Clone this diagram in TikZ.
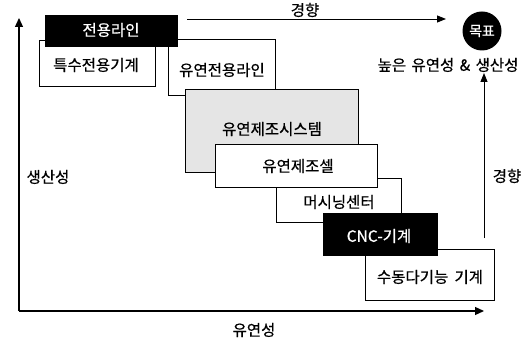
\documentclass[tikz,border=0pt]{standalone}
\usepackage{fontspec}
\setmainfont{Noto Sans CJK KR}[FakeBold=0.6]
\usetikzlibrary{arrows.meta}
\tikzset{
  box/.style={draw=black, line width=0.9pt, fill=white, anchor=north west, inner sep=0pt},
  blackbox/.style={box, fill=black},
  dotbox/.style={box, fill=black!10},
  lbl/.style={font=\fontsize{15.5}{17}\selectfont, inner sep=0pt},
  wlbl/.style={lbl, text=white},
  axis/.style={line width=1.2pt, -{Triangle[length=9pt,width=8pt]}},
  trend/.style={line width=0.9pt, -{Triangle[length=9pt,width=7pt]}},
}
\begin{document}
\begin{tikzpicture}[x=1pt,y=-1pt]
\useasboundingbox (0,0) rectangle (532,347);
% boxes (back to front)
\node[box, minimum width=116pt, minimum height=46pt] (teukbox) at (39,40) {};
\node[box, minimum width=107pt, minimum height=56pt] (yjbox) at (168,39) {};
\node[blackbox, minimum width=132pt, minimum height=31pt] (jbox) at (45,15) {};
\node[dotbox, minimum width=173pt, minimum height=83pt] (sysbox) at (185,89) {};
\node[box, minimum width=129pt, minimum height=51pt] (manbox) at (365,249) {};
\node[box, minimum width=125pt, minimum height=44pt] (mcbox) at (276,178) {};
\node[blackbox, minimum width=114pt, minimum height=42pt] (cncbox) at (323,213) {};
\node[box, minimum width=162pt, minimum height=43pt] (cellbox) at (215,144) {};
% labels
\node[wlbl] (jt) at (111,30) {전용라인};
\node[lbl] (teukt) at (96,65) {특수전용기계};
\node[lbl] (yjt) at (222,70) {유연전용라인};
\node[lbl] (syst) at (272,129) {유연제조시스템};
\node[lbl] (cellt) at (298,166) {유연제조셀};
\node[lbl] (mct) at (339,202) {머시닝센터};
\node[wlbl] (cnct) at (379,236) {CNC-기계};
\node[lbl] (mant) at (430,277) {수동다기능\hspace{0.4em}기계};
% axes
\coordinate (o) at (19,311);
\coordinate (ytop) at (19,18);
\coordinate (xend) at (484,311);
\draw[axis] (o) -- (ytop);
\draw[axis] (o) -- (xend);
\node[lbl] (ylab) at (48,177) {생산성};
\node[lbl] (xlab) at (254,330) {유연성};
% goal
\node[circle, fill=black, minimum size=39pt, inner sep=0pt] (goal) at (482,31) {};
\node[wlbl, font=\fontsize{14}{16}\selectfont] (goalt) at (goal) {목표};
\node[lbl] (goald) at (448,65) {높은\hspace{0.35em}유연성\hspace{0.35em}\&\hspace{0.35em}생산성};
% trends
\coordinate (t1s) at (187,19);
\coordinate (t1e) at (446,19);
\draw[trend] (t1s) -- (t1e);
\node[lbl] (t1l) at (305,10) {경향};
\coordinate (t2s) at (484,238);
\coordinate (t2e) at (484,73);
\draw[trend] (t2s) -- (t2e);
\node[lbl] (t2l) at (507,176) {경향};
\end{tikzpicture}
\end{document}
